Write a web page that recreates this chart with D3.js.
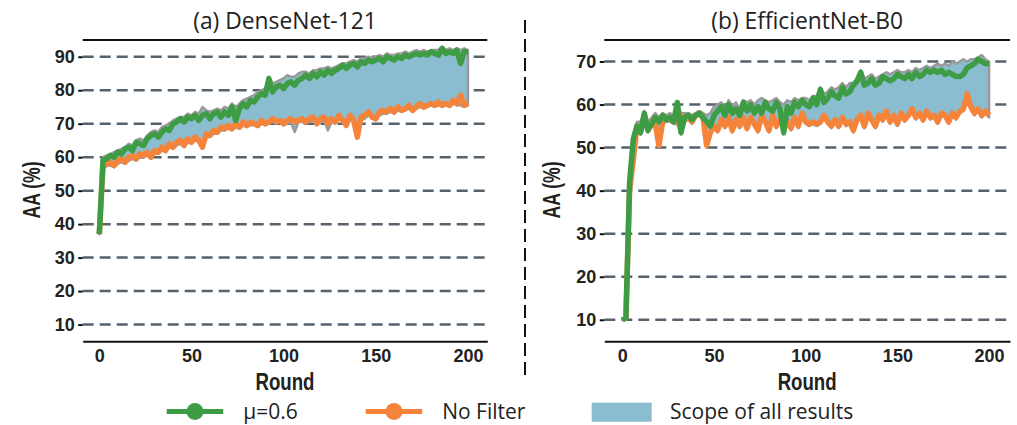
<!DOCTYPE html>
<html>
<head>
<meta charset="utf-8">
<script src="https://cdn.jsdelivr.net/npm/d3@7"></script>
<style>
  body { margin: 0; background: #fff; }
  svg { display: block; }
  .narrow { font-family: 'Liberation Sans', Arial, sans-serif; font-weight: bold; }
</style>
</head>
<body>
<script>
// rounds, every second one
var rounds = d3.range(0, 201, 2);

// (a) DenseNet-121
var denseGreen = [37, 59, 59.5, 60.5, 60, 61.5, 61, 62.5, 63, 62,
  64.5, 64, 63.5, 65.5, 66.5, 67, 66, 67.5, 68.5, 68,
  70, 70.5, 71.5, 70.5, 72, 71.5, 72.5, 71, 72.5, 73,
  71.5, 73, 73.5, 72, 73.5, 72.5, 75, 71, 74.5, 76,
  75, 77, 76.5, 78, 79, 78.5, 83.5, 79.5, 81, 81.5,
  80.5, 82, 82.5, 81.5, 83, 83.5, 84.5, 83.5, 85, 84,
  85.5, 84.5, 86, 85, 86, 86.5, 87.5, 86.5, 87.5, 88,
  87, 88.5, 88, 89, 88.5, 89, 89.5, 88.5, 90, 89.5,
  89, 90, 89.5, 90.5, 90, 90.5, 91, 90.5, 91, 90.5,
  91.5, 91, 90.5, 92.5, 91, 91.5, 91, 92, 88, 91.5,
  91.5];
var denseOrange = [37, 57, 58, 58.5, 57.5, 59, 59.5, 58.5, 60, 60.5,
  59.5, 61, 60.5, 61.5, 60, 62, 61.5, 63, 62, 64,
  63, 64.5, 65, 63.5, 65.5, 64.5, 66, 65, 63, 67,
  66.5, 68, 67.5, 69, 68.5, 69.5, 68.5, 70, 69, 70.5,
  69.5, 70.5, 70, 69.5, 71, 70, 70.5, 71.5, 70.5, 71,
  70, 71, 71.5, 70.5, 71, 71.5, 70.5, 71.5, 72, 70,
  71.5, 72, 70, 71.5, 70.5, 72.5, 71, 69.5, 72.5, 71,
  66, 72, 72.5, 73.5, 72, 71.5, 73.5, 74, 73.5, 74.5,
  73.5, 75, 74, 74.5, 75.5, 74, 75, 76, 75, 75.5,
  76, 75.5, 76.5, 75.5, 76, 75.5, 77, 76, 78.5, 75.5,
  76];
var denseHigh = [37, 60, 60.5, 61, 61.5, 62, 62.5, 63, 64, 63.5,
  65, 65.5, 65, 66.5, 67.5, 68, 67.5, 69, 69.5, 70,
  71, 71.5, 72, 72, 73, 72.5, 73.5, 73, 75, 74,
  73.5, 74, 74.5, 74, 75, 74.5, 76, 75, 76, 77,
  77.5, 78, 78.5, 79.5, 80, 80.5, 84, 82, 82.5, 83,
  83.5, 84.5, 84, 84, 85, 85.5, 85.5, 85, 86, 86,
  86.5, 86.5, 87, 86.5, 87, 87.5, 88, 88, 88.5, 89,
  88.5, 89.5, 89.5, 90, 89.5, 90, 90.5, 90, 91, 90.5,
  90.5, 91, 91, 91.5, 91, 91.5, 92, 91.5, 92, 91.5,
  92, 92, 92, 93, 92, 92.5, 92, 92.5, 92, 92.5,
  92];
var denseLow = [37, 56.5, 57.5, 57.5, 57, 58, 58.5, 58, 59, 59.5,
  59, 60, 60, 60.5, 59.5, 61, 61, 62, 61.5, 63,
  62.5, 63.5, 64, 63, 64.5, 64, 65, 64.5, 62.5, 66,
  66, 67, 67, 68, 68, 68.5, 68, 69, 68.5, 69.5,
  69, 69.5, 69.5, 69, 70, 69.5, 70, 70.5, 70, 70.5,
  69.5, 70, 70.5, 67.5, 70.5, 70.5, 70, 70.5, 71, 69.5,
  70.5, 71, 68, 70.5, 70, 71.5, 70.5, 69, 71.5, 70.5,
  65.5, 71, 71.5, 72.5, 71.5, 71, 72.5, 73, 73, 73.5,
  73, 74, 73.5, 74, 74.5, 73.5, 74.5, 75, 74.5, 75,
  75.5, 75, 75.5, 75, 75.5, 75, 76, 75.5, 75.5, 75,
  75.5];

// (b) EfficientNet-B0
var effGreen = [10, 10.5, 42, 52, 55, 53.5, 58, 54, 55.5, 57,
  56, 57.5, 56.5, 57, 56, 60.5, 53.5, 57, 57.5, 56.5,
  57.5, 58, 57, 56, 55, 57.5, 58.5, 59.5, 57.5, 60,
  58, 59, 57.5, 60.5, 58.5, 60, 58, 59.5, 58, 60.5,
  59, 58.5, 60.5, 59, 53.5, 59.5, 58, 60.5, 59.5, 61,
  60, 59.5, 61.5, 60, 63.5, 60.5, 61.5, 63, 62, 61.5,
  64, 62.5, 63, 64.5, 65.5, 67.5, 64.5, 65, 66, 64.5,
  65, 66.5, 66, 65.5, 66, 67, 66.5, 66, 67, 66,
  67.5, 66.5, 67, 68, 67.5, 68, 67.5, 68, 67, 67.5,
  67, 66.5, 66.5, 67, 68.5, 69, 69.5, 70.5, 70, 69.5,
  69.5];
var effOrange = [10, 10.5, 40, 47, 55, 54, 56, 55, 56, 55.5,
  50.5, 56, 57, 56.5, 57, 56, 57.5, 56.5, 57, 56,
  57.5, 58, 57, 50.5, 53.5, 55, 54, 56.5, 55, 57,
  54, 56.5, 55, 57, 54.5, 57, 55.5, 54, 57.5, 56,
  54, 57.5, 55, 56.5, 57.5, 56, 54.5, 57, 55, 58,
  56, 55.5, 56, 55.5, 56, 57.5, 56, 55, 56.5, 55,
  57, 55.5, 56, 54, 56.5, 57.5, 55, 58, 56.5, 55,
  57.5, 56.5, 58.5, 56, 57.5, 55.5, 58, 56.5, 57.5, 59,
  57, 58, 56.5, 58.5, 57, 57.5, 56, 58, 57.5, 56,
  58, 57, 58.5, 59, 62.5, 59.5, 58, 59, 57.5, 58.5,
  57.5];
var effHigh = [10, 10.5, 43, 53, 56, 56, 58.5, 56, 57, 58,
  57, 58, 57.5, 58, 57.5, 60.5, 58, 58, 58, 57.5,
  58, 58.5, 58, 57.5, 58, 59.5, 60, 60.5, 59, 61,
  59.5, 60.5, 59, 61, 60.5, 61, 60, 61, 61.5, 61,
  60.5, 61, 61.5, 60.5, 60, 61, 60.5, 61.5, 61, 61.5,
  61.5, 61, 62, 62, 64, 62.5, 63, 64, 63.5, 64,
  65, 64, 65, 65, 66, 68, 66, 66.5, 67, 66,
  66.5, 67, 67.5, 67, 67.5, 68, 67.5, 67.5, 68, 67.5,
  68.5, 68, 68.5, 69, 68.5, 69, 69.5, 69, 69.5, 69,
  70, 69.5, 70, 70.5, 70, 70.5, 70.5, 71, 71.5, 70.5,
  70];
var effLow = [10, 10, 39, 46, 54, 53, 55.5, 53.5, 55, 55,
  50, 55.5, 56, 56, 55.5, 55.5, 53, 56, 56.5, 55.5,
  57, 57.5, 56.5, 50, 53, 54.5, 53.5, 56, 54.5, 56.5,
  53.5, 56, 54.5, 56.5, 54, 56.5, 55, 53.5, 57, 55.5,
  53.5, 57, 54.5, 56, 53, 55.5, 54, 56.5, 54.5, 57.5,
  55.5, 55, 55.5, 55, 55.5, 57, 55.5, 54.5, 56, 54.5,
  56.5, 55, 55.5, 53.5, 56, 57, 54.5, 57.5, 56, 54.5,
  57, 56, 58, 55.5, 57, 55, 57.5, 56, 57, 58.5,
  56.5, 57.5, 56, 58, 56.5, 57, 55.5, 57.5, 57, 55.5,
  57.5, 56.5, 58, 58.5, 61.5, 59, 57.5, 58.5, 57, 58,
  57];

var panelTitles = ["(a) DenseNet-121", "(b) EfficientNet-B0"];
var denseTicks = [10, 20, 30, 40, 50, 60, 70, 80, 90];
var effTicks = [10, 20, 30, 40, 50, 60, 70];
var roundTicks = [0, 50, 100, 150, 200];
var legendLabels = ["\u03bc=0.6", "No Filter", "Scope of all results"];

var w = 1017;
var h = 425;
var green = "#3e9c45";
var orange = "#f5843a";
var scopeFill = "#8bbdd0";
var scopeEdge = "#9a9a9a";
var gridColor = "#56626c";
var regular = "'Open Sans', 'Noto Sans', sans-serif";

var svg = d3.select("body").append("svg")
  .attr("width", w)
  .attr("height", h);

var panels = [
  { title: panelTitles[0], left: 82.7, right: 487.3, xDomain: [-9, 210.5],
    yDomain: [5, 95], yTicks: denseTicks, labelX: 40,
    green: denseGreen, orange: denseOrange, high: denseHigh, low: denseLow },
  { title: panelTitles[1], left: 604.3, right: 1010, xDomain: [-9.8, 211.4],
    yDomain: [5, 75], yTicks: effTicks, labelX: 560,
    green: effGreen, orange: effOrange, high: effHigh, low: effLow }
];
var plotTop = 40;
var plotBottom = 341.3;

panels.forEach(drawPanel);

function drawPanel(p) {
  var x = d3.scaleLinear().domain(p.xDomain).range([p.left, p.right]);
  var y = d3.scaleLinear().domain(p.yDomain).range([plotBottom, plotTop]);
  var g = svg.append("g");

  // dashed grid lines
  g.selectAll("line.grid")
    .data(p.yTicks)
    .enter()
    .append("line")
    .attr("class", "grid")
    .attr("x1", p.left)
    .attr("x2", p.right)
    .attr("y1", function(d) { return y(d); })
    .attr("y2", function(d) { return y(d); })
    .attr("stroke", gridColor)
    .attr("stroke-width", 2.5)
    .attr("stroke-dasharray", "11,6");

  // scope of all results
  var area = d3.area()
    .x(function(d, i) { return x(rounds[i]); })
    .y0(function(d, i) { return y(p.low[i]); })
    .y1(function(d, i) { return y(p.high[i]); });
  g.append("path")
    .datum(rounds)
    .attr("d", area)
    .attr("fill", scopeFill)
    .attr("stroke", scopeEdge)
    .attr("stroke-width", 2.5)
    .attr("stroke-linejoin", "round");

  var line = d3.line()
    .x(function(d, i) { return x(rounds[i]); })
    .y(function(d) { return y(d); });

  g.append("path")
    .datum(p.orange)
    .attr("d", line)
    .attr("fill", "none")
    .attr("stroke", orange)
    .attr("stroke-width", 5.5)
    .attr("stroke-linejoin", "round");

  g.append("path")
    .datum(p.green)
    .attr("d", line)
    .attr("fill", "none")
    .attr("stroke", green)
    .attr("stroke-width", 5.5)
    .attr("stroke-linejoin", "round");

  // y axis, no spine
  var yAxis = g.append("g")
    .attr("transform", "translate(" + p.left + ",0)")
    .call(d3.axisLeft(y).tickValues(p.yTicks).tickSize(4.5).tickPadding(3.5));
  yAxis.attr("font-family", null);
  yAxis.select(".domain").remove();
  yAxis.selectAll(".tick line").attr("stroke", "#111").attr("stroke-width", 2);
  yAxis.selectAll("text")
    .attr("class", "narrow")
    .attr("font-size", 18)
    .attr("fill", "#222");

  // x axis
  var xAxis = g.append("g")
    .attr("transform", "translate(0," + plotBottom + ")")
    .call(d3.axisBottom(x).tickValues(roundTicks).tickSize(0).tickPadding(8));
  xAxis.attr("font-family", null);
  xAxis.select(".domain").attr("stroke", "#111").attr("stroke-width", 2);
  xAxis.selectAll("text")
    .attr("class", "narrow")
    .attr("font-size", 18)
    .attr("fill", "#222");

  // top spine
  g.append("line")
    .attr("x1", p.left)
    .attr("x2", p.right)
    .attr("y1", plotTop)
    .attr("y2", plotTop)
    .attr("stroke", "#111")
    .attr("stroke-width", 2);

  // title
  g.append("text")
    .attr("x", (p.left + p.right) / 2)
    .attr("y", 29)
    .attr("text-anchor", "middle")
    .attr("font-family", regular)
    .attr("font-size", 22.8)
    .attr("fill", "#222")
    .text(p.title);

  // axis labels, squeezed to the condensed widths of the original
  g.append("text")
    .attr("class", "narrow")
    .attr("x", (p.left + p.right) / 2 - 29.5)
    .attr("y", 390)
    .attr("font-size", 23)
    .attr("textLength", 59)
    .attr("lengthAdjust", "spacingAndGlyphs")
    .attr("fill", "#222")
    .text("Round");

  g.append("text")
    .attr("class", "narrow")
    .attr("transform", "translate(" + p.labelX + ",218.5) rotate(-90)")
    .attr("font-size", 23)
    .attr("textLength", 57)
    .attr("lengthAdjust", "spacingAndGlyphs")
    .attr("fill", "#222")
    .text("AA (%)");
}

// dashed divider between the panels
svg.append("line")
  .attr("x1", 525)
  .attr("x2", 525)
  .attr("y1", 20)
  .attr("y2", 378)
  .attr("stroke", "#111")
  .attr("stroke-width", 2)
  .attr("stroke-dasharray", "13,6");

// legend
var legendY = 411.5;
var lineItems = [
  { x: 166.7, color: green, label: legendLabels[0] },
  { x: 365.7, color: orange, label: legendLabels[1] }
];
lineItems.forEach(function(d) {
  svg.append("line")
    .attr("x1", d.x)
    .attr("x2", d.x + 56.5)
    .attr("y1", legendY)
    .attr("y2", legendY)
    .attr("stroke", d.color)
    .attr("stroke-width", 5);
  svg.append("circle")
    .attr("cx", d.x + 28.3)
    .attr("cy", legendY)
    .attr("r", 8.5)
    .attr("fill", d.color);
  svg.append("text")
    .attr("x", d.x + 76.5)
    .attr("y", legendY + 7)
    .attr("font-family", regular)
    .attr("font-size", 21)
    .attr("fill", "#222")
    .text(d.label);
});

svg.append("rect")
  .attr("x", 591.7)
  .attr("y", 402.7)
  .attr("width", 60)
  .attr("height", 19)
  .attr("fill", scopeFill);
svg.append("text")
  .attr("x", 670)
  .attr("y", legendY + 7)
  .attr("font-family", regular)
  .attr("font-size", 21)
  .attr("fill", "#222")
  .text(legendLabels[2]);
</script>
</body>
</html>
